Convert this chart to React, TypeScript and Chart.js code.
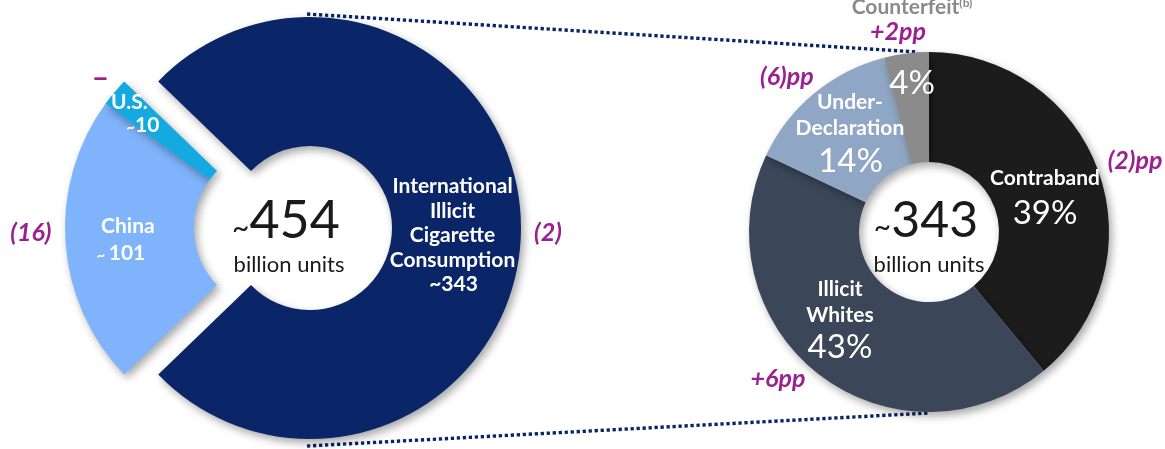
import React, { useEffect, useRef } from 'react';
import { Chart, registerables } from 'chart.js';

Chart.register(...registerables);

// ---------------- data ----------------
const leftCategories = ['International Illicit Cigarette Consumption', 'China', 'U.S.'];
const leftValues = [343, 101, 10];
const leftChanges = ['(2)', '(16)', '–'];

const rightCategories = ['Contraband', 'Illicit Whites', 'Under-Declaration', 'Counterfeit'];
const rightShares = [39, 43, 14, 4];
const rightChanges = ['(2)pp', '+6pp', '(6)pp', '+2pp'];

const unitText = 'billion units';
const counterfeitNote = '(b)';

const leftTotal = leftValues.reduce((a, b) => a + b, 0);

// ---------------- styles ----------------
const LEFT_COLORS = ['#0a2668', '#7fb3fb', '#14a9e1'];
const RIGHT_COLORS = ['#1c1c1c', '#3b4759', '#8fa7c5', '#8b8b8b'];
const MAGENTA = '#9c2190';
const WHITE = '#ffffff';
const INK = '#1a1a1a';
const GREY_TEXT = '#8a8a8a';
const LINE_NAVY = '#0a2566';
const FAMILY = 'Lato, "Open Sans", sans-serif';
const f = (px: number, weight = 'normal', style = 'normal') => `${style} ${weight} ${px}px ${FAMILY}`;

const nameFont = f(21, 'bold');
const intlFont = f(21, 'bold');
const changeFont = f(25, 'bold', 'italic');
const pctFont = f(33);

type Run = { t: string; font: string; color: string; rise?: number };
type Line = { runs: Run[]; dx: number; dy: number };
type Item = { seg: number | null; lines: Line[] };

const run = (t: string, font: string, color: string, rise = 0): Run => ({ t, font, color, rise });

function drawRuns(ctx: CanvasRenderingContext2D, runs: Run[], cx: number, y: number) {
  let total = 0;
  const widths = runs.map((r) => {
    ctx.font = r.font;
    const w = ctx.measureText(r.t).width;
    total += w;
    return w;
  });
  let x = cx - total / 2;
  ctx.textAlign = 'left';
  ctx.textBaseline = 'alphabetic';
  runs.forEach((r, i) => {
    ctx.font = r.font;
    ctx.fillStyle = r.color;
    ctx.fillText(r.t, x, y - (r.rise || 0));
    x += widths[i];
  });
}

function makeArcsPlugin(explode: number[], distance: number) {
  return {
    id: 'explodedArcs',
    beforeDatasetsDraw(chart: any) {
      const meta = chart.getDatasetMeta(0);
      const ctx: CanvasRenderingContext2D = chart.ctx;
      let dx = 0;
      let dy = 0;
      if (explode.length) {
        const els = explode.map((i) => meta.data[i]);
        const s = Math.min(...els.map((e: any) => e.startAngle));
        const e = Math.max(...els.map((el: any) => el.endAngle));
        const mid = (s + e) / 2;
        dx = Math.cos(mid) * distance;
        dy = Math.sin(mid) * distance;
      }
      chart.$shift = { dx, dy };
      meta.data.forEach((el: any, i: number) => {
        ctx.save();
        ctx.shadowColor = 'rgba(0,0,0,0.35)';
        ctx.shadowBlur = 8;
        ctx.shadowOffsetX = 3;
        ctx.shadowOffsetY = 4;
        if (explode.includes(i)) ctx.translate(dx, dy);
        el.draw(ctx, chart.chartArea);
        ctx.restore();
      });
      return false;
    },
  };
}

function makeLabelsPlugin(items: Item[], explode: number[]) {
  return {
    id: 'segLabels',
    afterDraw(chart: any) {
      const meta = chart.getDatasetMeta(0);
      const ctx: CanvasRenderingContext2D = chart.ctx;
      const shift = chart.$shift || { dx: 0, dy: 0 };
      ctx.save();
      items.forEach((item) => {
        let ax: number;
        let ay: number;
        if (item.seg === null) {
          ax = meta.data[0].x;
          ay = meta.data[0].y;
        } else {
          const p = meta.data[item.seg].getCenterPoint();
          ax = p.x;
          ay = p.y;
          if (explode.includes(item.seg)) {
            ax += shift.dx;
            ay += shift.dy;
          }
        }
        item.lines.forEach((ln) => drawRuns(ctx, ln.runs, ax + ln.dx, ay + ln.dy));
      });
      ctx.restore();
    },
  };
}

// ---------------- label layouts ----------------
const [intlName, chinaName, usName] = leftCategories;
const leftExplode = [1, 2];

const leftItems: Item[] = [
  {
    seg: 0,
    lines: [
      ...intlName.split(' ').map((w, i) => ({ runs: [run(w, intlFont, WHITE)], dx: -4, dy: -35 + i * 24.5 })),
      { runs: [run('~' + leftValues[0], intlFont, WHITE)], dx: -3, dy: 63 },
      { runs: [run(leftChanges[0], changeFont, MAGENTA)], dx: 91.5, dy: 13 },
    ],
  },
  {
    seg: 1,
    lines: [
      { runs: [run(chinaName, nameFont, WHITE)], dx: -2, dy: -5 },
      { runs: [run('~ ', f(15, 'bold'), WHITE), run(String(leftValues[1]), nameFont, WHITE)], dx: -9, dy: 22 },
      { runs: [run(leftChanges[1], changeFont, MAGENTA)], dx: -99, dy: 3 },
    ],
  },
  {
    seg: 2,
    lines: [
      { runs: [run(usName, nameFont, WHITE)], dx: -34.5, dy: -24.5 },
      { runs: [run('~', f(15, 'bold'), WHITE), run(String(leftValues[2]), nameFont, WHITE)], dx: -21, dy: -1.5 },
      { runs: [run(leftChanges[2], f(30, 'bold'), MAGENTA)], dx: -63.5, dy: -46 },
    ],
  },
  {
    seg: null,
    lines: [
      { runs: [run('~', f(30), INK), run(String(leftTotal), f(52), INK)], dx: -24, dy: 10 },
      { runs: [run(unitText, f(22), INK)], dx: -21, dy: 44 },
    ],
  },
];

const [contraName, whitesName, underName, counterName] = rightCategories;
const pct = (v: number) => `${v}%`;

const rightItems: Item[] = [
  {
    seg: 0,
    lines: [
      { runs: [run(contraName, nameFont, WHITE)], dx: -1.6, dy: -4.6 },
      { runs: [run(pct(rightShares[0]), pctFont, WHITE)], dx: -1.6, dy: 34.4 },
      { runs: [run(rightChanges[0], changeFont, MAGENTA)], dx: 88.4, dy: -20.6 },
    ],
  },
  {
    seg: 1,
    lines: [
      ...whitesName.split(' ').map((w, i) => ({ runs: [run(w, nameFont, WHITE)], dx: -12.4, dy: -34.8 + i * 26 })),
      { runs: [run(pct(rightShares[1]), pctFont, WHITE)], dx: -12.4, dy: 27.7 },
      { runs: [run(rightChanges[1], changeFont, MAGENTA)], dx: -74.4, dy: 56.2 },
    ],
  },
  {
    seg: 2,
    lines: [
      ...underName
        .replace('-', '- ')
        .split(' ')
        .map((w, i) => ({ runs: [run(w, nameFont, WHITE)], dx: 0.6, dy: -26.6 + i * 26 })),
      { runs: [run(pct(rightShares[2]), pctFont, WHITE)], dx: 1.2, dy: 36 },
      { runs: [run(rightChanges[2], changeFont, MAGENTA)], dx: -62.4, dy: -50.6 },
    ],
  },
  {
    seg: 3,
    lines: [
      { runs: [run(pct(rightShares[3]), pctFont, WHITE)], dx: -1.3, dy: -14 },
      { runs: [run(rightChanges[3], changeFont, MAGENTA)], dx: -15.3, dy: -68 },
      {
        runs: [run(counterName, nameFont, GREY_TEXT), run(counterfeitNote, f(12, 'bold'), GREY_TEXT, 7)],
        dx: -1.3,
        dy: -94,
      },
    ],
  },
  {
    seg: null,
    lines: [
      { runs: [run('~', f(30), INK), run(String(leftValues[0]), f(50), INK)], dx: -3, dy: 5 },
      { runs: [run(unitText, f(22), INK)], dx: 0, dy: 40 },
    ],
  },
];

// ---------------- geometry (style) ----------------
const LEFT = { cx: 310, cy: 228, R: 211, r: 82, w: 616, h: 456, explodeDist: 34 };
const RIGHT = { cx: 929, cy: 232, R: 180, r: 70, w: 470, h: 464 };

const leftRotation = 90 - (leftValues[0] / leftTotal) * 180;

function DonutCanvas(props: {
  geo: { cx: number; cy: number; R: number; r: number; w: number; h: number };
  labels: string[];
  values: number[];
  colors: string[];
  rotation: number;
  items: Item[];
  explode: number[];
  explodeDist: number;
}) {
  const ref = useRef<HTMLCanvasElement | null>(null);
  const { geo } = props;
  useEffect(() => {
    if (!ref.current) return;
    const chart = new Chart(ref.current, {
      type: 'doughnut',
      data: {
        labels: props.labels,
        datasets: [
          {
            data: props.values,
            backgroundColor: props.colors,
            borderWidth: 0,
          },
        ],
      },
      options: {
        animation: false,
        responsive: false,
        maintainAspectRatio: false,
        events: [],
        rotation: props.rotation,
        radius: geo.R,
        cutout: `${(geo.r / geo.R) * 100}%`,
        layout: { padding: 0 },
        plugins: {
          legend: { display: false },
          tooltip: { enabled: false },
        },
      } as any,
      plugins: [makeArcsPlugin(props.explode, props.explodeDist), makeLabelsPlugin(props.items, props.explode)],
    });
    return () => chart.destroy();
  }, []);
  return (
    <canvas
      ref={ref}
      width={geo.w}
      height={geo.h}
      style={{
        position: 'absolute',
        left: geo.cx - geo.w / 2,
        top: geo.cy - geo.h / 2,
        width: geo.w,
        height: geo.h,
      }}
    />
  );
}

export default function App() {
  return (
    <div
      style={{
        position: 'absolute',
        left: 0,
        top: 0,
        width: 1165,
        height: 449,
        overflow: 'hidden',
        background: '#ffffff',
      }}
    >
      <svg width={1165} height={449} style={{ position: 'absolute', left: 0, top: 0 }}>
        <line x1={307} y1={14} x2={918} y2={52} stroke={LINE_NAVY} strokeWidth={3.4} strokeDasharray="3.3 2.7" />
        <line x1={307} y1={446} x2={929} y2={413} stroke={LINE_NAVY} strokeWidth={3.4} strokeDasharray="3.3 2.7" />
      </svg>
      <DonutCanvas
        geo={LEFT}
        labels={leftCategories}
        values={leftValues}
        colors={LEFT_COLORS}
        rotation={leftRotation}
        items={leftItems}
        explode={leftExplode}
        explodeDist={LEFT.explodeDist}
      />
      <DonutCanvas
        geo={RIGHT}
        labels={rightCategories}
        values={rightShares}
        colors={RIGHT_COLORS}
        rotation={0}
        items={rightItems}
        explode={[]}
        explodeDist={0}
      />
    </div>
  );
}
